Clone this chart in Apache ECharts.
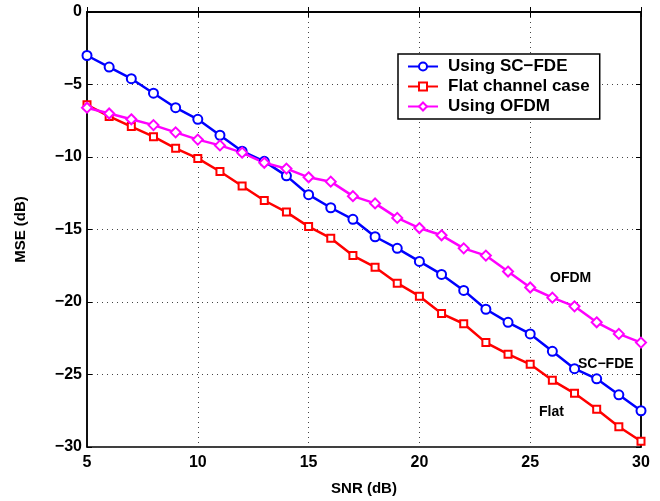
<!DOCTYPE html>
<html>
<head>
<meta charset="utf-8">
<script src="https://cdn.jsdelivr.net/npm/echarts@6/dist/echarts.min.js"></script>
<style>html,body{margin:0;padding:0;background:#fff;}#c{width:660px;height:501px;}</style>
</head>
<body>
<div id="c"></div>
<script>
const snr = [5,6,7,8,9,10,11,12,13,14,15,16,17,18,19,20,21,22,23,24,25,26,27,28,29,30];
const scfde = [-3.0,-3.8,-4.6,-5.6,-6.6,-7.4,-8.5,-9.6,-10.3,-11.3,-12.6,-13.5,-14.3,-15.5,-16.3,-17.2,-18.1,-19.2,-20.5,-21.4,-22.2,-23.4,-24.6,-25.3,-26.4,-27.5];
const flat = [-6.4,-7.2,-7.9,-8.6,-9.4,-10.1,-11.0,-12.0,-13.0,-13.8,-14.8,-15.6,-16.8,-17.6,-18.7,-19.6,-20.8,-21.5,-22.8,-23.6,-24.3,-25.4,-26.3,-27.4,-28.6,-29.6];
const ofdm = [-6.6,-7.0,-7.4,-7.8,-8.3,-8.8,-9.2,-9.7,-10.4,-10.8,-11.4,-11.7,-12.7,-13.2,-14.2,-14.9,-15.4,-16.3,-16.8,-17.9,-19.0,-19.7,-20.3,-21.4,-22.2,-22.8];
const seriesNames = ['Using SC\u2212FDE','Flat channel case','Using OFDM'];
const annotations = ['OFDM','SC\u2212FDE','Flat'];

const pair = (ys) => snr.map((x,i)=>[x,ys[i]]);
const font = 'Liberation Sans, Arial, sans-serif';
const minus = v => String(v).replace('-', '\u2212');
const chart = echarts.init(document.getElementById('c'), null, {renderer:'canvas'});
const mk = (name, data, color, symbol, size) => ({
  name, type:'line', data: pair(data), symbol, symbolSize:size,
  lineStyle:{color, width:2.5}, itemStyle:{color, borderColor:color, borderWidth:2},
  showAllSymbol:true, animation:false, z:3
});
chart.setOption({
  animation:false,
  grid:{left:87, right:19, top:12, bottom:54, show:true, borderColor:'#000', borderWidth:1.5, backgroundColor:'#fff'},
  xAxis:[{
    type:'value', min:5, max:30, interval:5, position:'bottom',
    name:'SNR (dB)', nameLocation:'middle', nameGap:34,
    nameTextStyle:{fontFamily:font, fontWeight:'bold', fontSize:15, color:'#000'},
    axisLine:{show:true, lineStyle:{color:'#000', width:1.5}},
    axisTick:{show:true, inside:true, length:5, lineStyle:{color:'#000'}},
    axisLabel:{fontFamily:font, fontWeight:'bold', fontSize:16, color:'#000', margin:8, formatter:minus},
    splitLine:{show:true, lineStyle:{color:'#444', type:[1,4], width:1}}
  },{
    type:'value', min:5, max:30, interval:5, position:'top',
    axisLine:{show:true, lineStyle:{color:'#000', width:1.5}},
    axisTick:{show:true, inside:true, length:5, lineStyle:{color:'#000'}},
    axisLabel:{show:false}, splitLine:{show:false}
  }],
  yAxis:[{
    type:'value', min:-30, max:0, interval:5, position:'left',
    name:'MSE (dB)', nameLocation:'middle', nameGap:59, nameRotate:90,
    nameTextStyle:{fontFamily:font, fontWeight:'bold', fontSize:15, color:'#000'},
    axisLine:{show:true, lineStyle:{color:'#000', width:1.5}},
    axisTick:{show:true, inside:true, length:5, lineStyle:{color:'#000'}},
    axisLabel:{fontFamily:font, fontWeight:'bold', fontSize:16, color:'#000', margin:5, formatter:minus},
    splitLine:{show:true, lineStyle:{color:'#444', type:[1,4], width:1}}
  },{
    type:'value', min:-30, max:0, interval:5, position:'right',
    axisLine:{show:true, lineStyle:{color:'#000', width:1.5}},
    axisTick:{show:true, inside:true, length:5, lineStyle:{color:'#000'}},
    axisLabel:{show:false}, splitLine:{show:false}
  }],
  legend:{
    orient:'vertical', left:398, top:54,
    backgroundColor:'#fff', borderColor:'#000', borderWidth:1.5,
    padding:[4,10,4,9], itemGap:3, itemWidth:30, itemHeight:10,
    textStyle:{fontFamily:font, fontWeight:'bold', fontSize:17, color:'#000', padding:[0,0,0,5]},
    data: seriesNames
  },
  series:[
    mk(seriesNames[0], scfde, '#0000ff', 'emptyCircle', 9),
    mk(seriesNames[1], flat, '#ff0000', 'emptyRect', 7),
    mk(seriesNames[2], ofdm, '#ff00ff', 'emptyDiamond', 10)
  ],
  graphic:[
    {type:'text', left:550, top:271, style:{text:annotations[0], font:'bold 14px '+font, fill:'#000'}},
    {type:'text', left:578, top:357, style:{text:annotations[1], font:'bold 14px '+font, fill:'#000'}},
    {type:'text', left:539, top:405, style:{text:annotations[2], font:'bold 14px '+font, fill:'#000'}}
  ]
});
</script>
</body>
</html>
